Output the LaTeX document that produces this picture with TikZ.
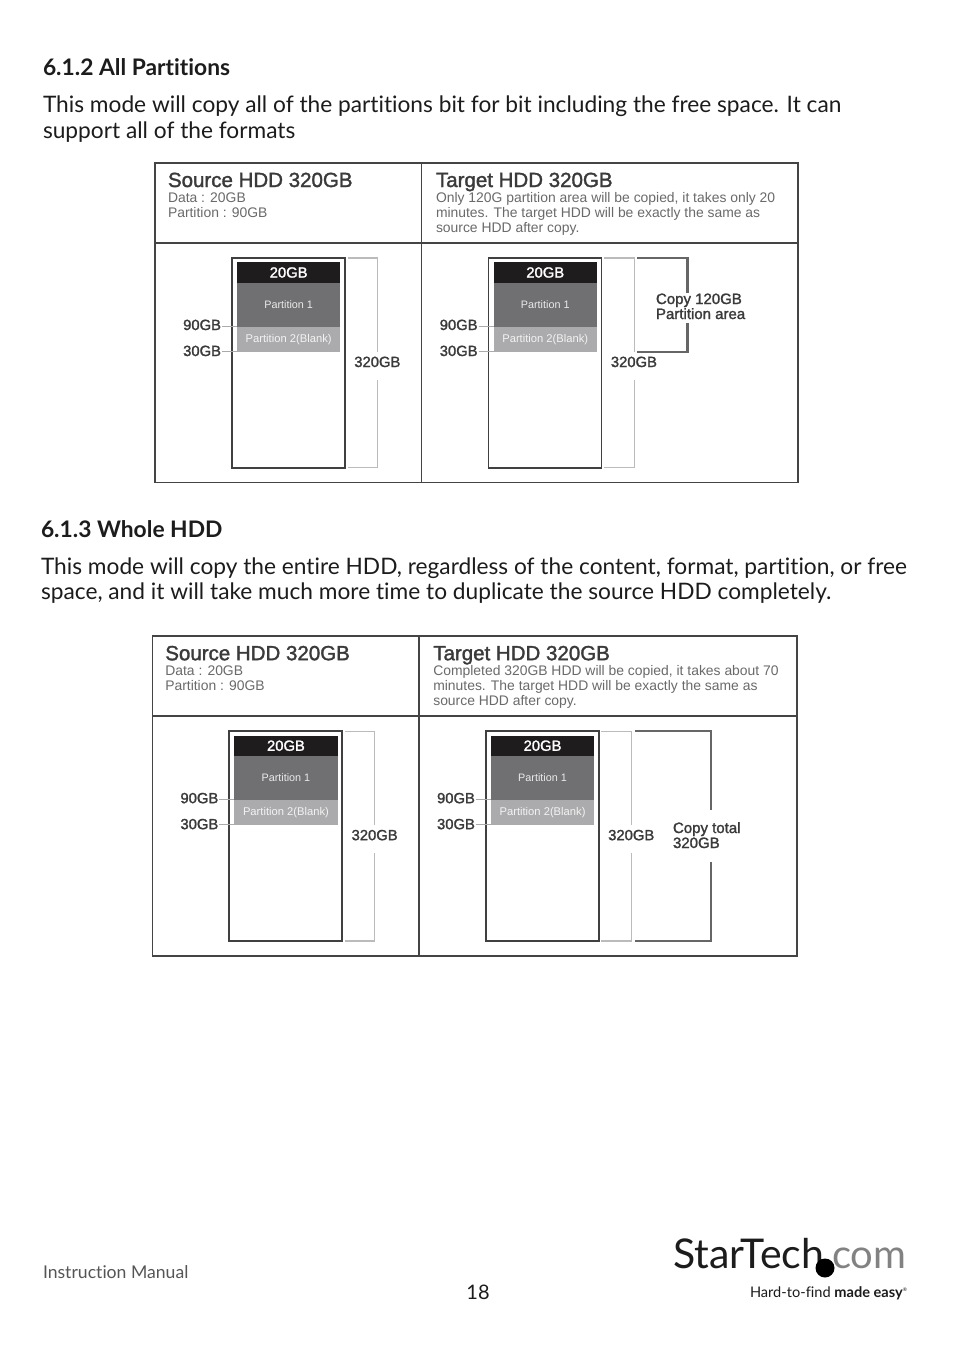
\documentclass[tikz,border=0pt]{standalone}
\usepackage{fontspec}
\setmainfont[Ligatures=NoCommon]{Lato}
\newfontfamily\dia[FakeBold=1.6]{Liberation Sans}
\newfontfamily\dial{Liberation Sans}
\newfontfamily\logof[Ligatures=NoCommon]{Lato}
\definecolor{frameline}{HTML}{444444}
\definecolor{diskline}{HTML}{404040}
\definecolor{bracketl}{HTML}{BBBBBB}
\definecolor{bracketd}{HTML}{666666}
\definecolor{leaderc}{HTML}{AAAAAA}
\definecolor{dtext}{HTML}{3A3A3A}
\definecolor{stext}{HTML}{6A6A6A}
\definecolor{bodyc}{HTML}{1C1C1C}
\definecolor{pa}{HTML}{1F1C1D}
\definecolor{pb}{HTML}{707073}
\definecolor{pc}{HTML}{ABABAD}
\tikzset{
  txt/.style={inner sep=0,outer sep=0,anchor=base west},
  body/.style={txt,text=bodyc,font=\fontsize{22.7}{24}\selectfont},
  heading/.style={txt,text=bodyc,font=\fontsize{22.8}{24}\selectfont\bfseries},
  title/.style={txt,text=dtext,font=\dia\fontsize{20.5}{20.5}\selectfont},
  sub/.style={txt,text=stext,font=\dial\fontsize{13.9}{13.9}\selectfont},
  gblabel/.style={txt,text=dtext,font=\dia\fontsize{14.8}{14.8}\selectfont},
  copylabel/.style={txt,text=dtext,font=\dia\fontsize{15}{15}\selectfont},
  frame/.style={draw=frameline,line width=1.6pt},
  disk/.style={draw=diskline,line width=1.7pt,fill=white,minimum width=113pt,minimum height=209.7pt,anchor=north west,inner sep=0,outer sep=0},
  bar/.style={minimum width=103.3pt,anchor=north west,inner sep=0,outer sep=0,text=white},
  leader/.style={draw=leaderc,line width=1pt},
  lightbr/.style={draw=bracketl,line width=1.2pt},
  darkbr/.style={draw=bracketd,line width=2.4pt},
}
\newcommand{\hddcol}[2]{%
  \node[disk] (#1d) at (#2,258) {};
  \node[bar,fill=pa,minimum height=20.4pt,font=\dia\fontsize{14.8}{14.8}\selectfont] (#1a) at (#2+5,262.3) {20GB};
  \node[bar,fill=pb,minimum height=44pt,text=white!85!pb,font=\dial\fontsize{10.8}{10.8}\selectfont] (#1b) at (#1a.south west) {Partition 1};
  \node[bar,fill=pc,minimum height=25pt,text=white!85!pc,font=\dial\fontsize{11.2}{11.2}\selectfont] (#1c) at (#1b.south west) {\raisebox{-1.5pt}{Partition 2(Blank)}};
  \coordinate (#1l9) at (#2-10,326.7);
  \coordinate (#1l3) at (#2-10,351.7);
  \draw[leader] (#1l9) -- (#1b.south west);
  \draw[leader] (#1l3) -- (#1c.south west);
  \node[gblabel,anchor=base east] (#1n9) at (#2-11,330) {90GB};
  \node[gblabel,anchor=base east] (#1n3) at (#2-11,356) {30GB};
  \coordinate (#1t0) at (#2+115.5,258);
  \coordinate (#1t1) at (#2+145.5,258);
  \coordinate (#1t2) at (#2+145.5,352);
  \coordinate (#1u0) at (#2+115.5,467.7);
  \coordinate (#1u1) at (#2+145.5,467.7);
  \coordinate (#1u2) at (#2+145.5,380);
  \draw[lightbr] (#1t0) -- (#1t1) -- (#1t2);
  \draw[lightbr] (#1u2) -- (#1u1) -- (#1u0);
  \node[gblabel] (#1n320) at (#2+122.3,367) {320GB};
}
\newcommand{\panelbase}[5]{%
  \begin{scope}[shift={(#2,#3)}]
    \draw[frame] (155,163) rectangle (#4,482.6);
    \draw[frame] (155,243) -- (#4,243);
    \draw[frame] (421.5,163) -- (421.5,482.6);
    \node[title] (#1s) at (168,187) {Source HDD 320GB};
    \node[sub] (#1s1) at (168,202) {Data : 20GB};
    \node[sub] (#1s2) at (168,217) {Partition : 90GB};
    \node[title] (#1t) at (436,187) {Target HDD 320GB};
    \node[sub] (#1t1x) at (436,202) {#5};
    \node[sub] (#1t2x) at (436,217) {minutes. The target HDD will be exactly the same as};
    \node[sub] (#1t3x) at (436,232) {source HDD after copy.};
    \hddcol{#1L}{232}
    \hddcol{#1R}{488.6}
  \end{scope}}
\begin{document}
\begin{tikzpicture}[x=1pt,y=-1pt]
\useasboundingbox[fill=white] (0,0) rectangle (954,1345);
\node[heading] (h1) at (43,75) {6.1.2 All Partitions};
\node[body] (b1a) at (43,112) {This mode will copy all of the partitions bit for bit including the free space. It can};
\node[body] (b1b) at (43,138) {support all of the formats};
\panelbase{A}{0}{0}{798}{Only 120G partition area will be copied, it takes only 20}
\coordinate (c1) at (637.3,258);
\coordinate (c2) at (687.3,258);
\coordinate (c3) at (687.3,293);
\coordinate (c4) at (687.3,323);
\coordinate (c5) at (687.3,351.7);
\coordinate (c6) at (637.3,351.7);
\draw[darkbr] (c1) -- (c2) -- (c3);
\draw[darkbr] (c4) -- (c5) -- (c6);
\node[copylabel] (cl1) at (656,304) {Copy 120GB};
\node[copylabel] (cl2) at (656,319) {Partition area};
\node[heading] (h2) at (41,537) {6.1.3 Whole HDD};
\node[body] (b2a) at (41,574) {This mode will copy the entire HDD, regardless of the content, format, partition, or free};
\node[body] (b2b) at (41,599) {space, and it will take much more time to duplicate the source HDD completely.};
\panelbase{B}{-2.7}{473.2}{799.4}{Completed 320GB HDD will be copied, it takes about 70}
\coordinate (d1) at (635,731);
\coordinate (d2) at (710.7,731);
\coordinate (d3) at (710.7,810);
\coordinate (d4) at (710.7,862);
\coordinate (d5) at (710.7,941);
\coordinate (d6) at (635,941);
\draw[darkbr] (d1) -- (d2) -- (d3);
\draw[darkbr] (d4) -- (d5) -- (d6);
\node[copylabel] (dl1) at (673,833) {Copy total};
\node[copylabel] (dl2) at (673,848) {320GB};
\node[txt,text=bodyc!75,font=\fontsize{17.6}{18}\selectfont] (foot) at (43,1278) {Instruction Manual};
\node[txt,anchor=base,text=bodyc,font=\fontsize{20}{20}\selectfont] (page) at (478,1299) {18};
\node[txt,text=bodyc,font=\logof\fontsize{41}{41}\selectfont] (logoa) at (673,1268) {StarTech};
\node[circle,fill=black,minimum size=19pt,inner sep=0] (logodot) at (825,1268) {};
\node[txt,text=bodyc!55,font=\logof\fontsize{40}{41}\selectfont] (logob) at (832,1268) {com};
\node[txt,text=bodyc,font=\logof\fontsize{14.6}{15}\selectfont] (tag) at (750,1297) {Hard-to-find {\bfseries made easy}\textsuperscript{\tiny®}};
\end{tikzpicture}
\end{document}
